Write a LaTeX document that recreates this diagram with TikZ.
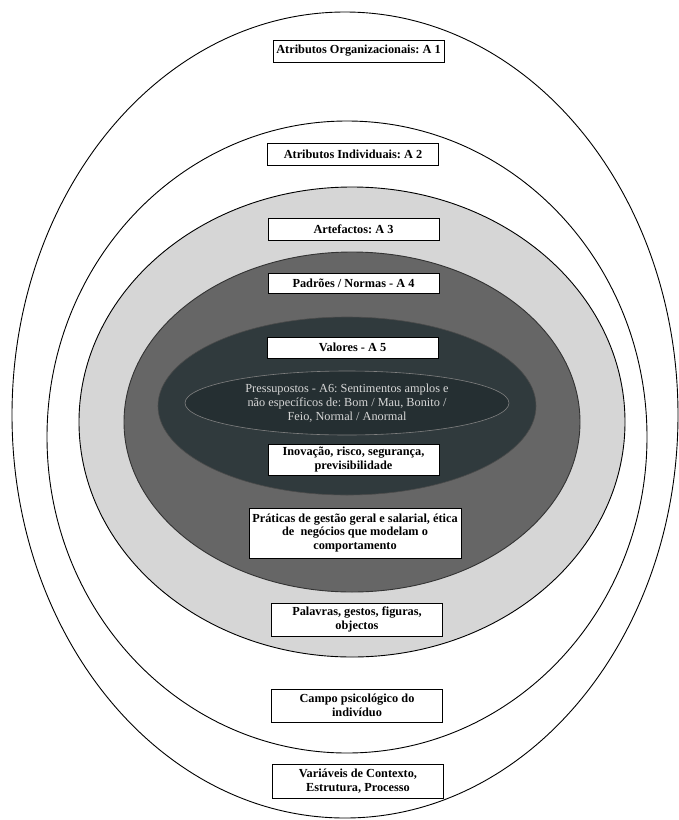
\documentclass[tikz,border=0pt]{standalone}
\usepackage{fontspec}
\setmainfont{Liberation Serif}
\frenchspacing
\definecolor{cinzaclaro}{HTML}{D6D6D6}
\definecolor{cinzamedio}{HTML}{666666}
\definecolor{escuro}{HTML}{303A3D}
\definecolor{maisescuro}{HTML}{252F32}
\tikzset{
    caixa/.style={draw, fill=white, line width=0.8pt, align=center, inner sep=1pt,
        minimum width=171pt, font=\bfseries\fontsize{12.3}{13.5}\selectfont},
    nucleo/.style={align=center, text=cinzaclaro, font=\fontsize{12.3}{14}\selectfont}
}
\begin{document}
\begin{tikzpicture}[x=1pt,y=-1pt]
    \useasboundingbox (0,0) rectangle (678,820);
    \draw[line width=0.9pt] (345,415) ellipse (333pt and 403pt);
    \draw[line width=0.9pt] (347,437) ellipse (300pt and 316pt);
    \draw[line width=0.9pt, fill=cinzaclaro] (352,422) ellipse (273pt and 235pt);
    \draw[line width=0.9pt, draw=black!80, fill=cinzamedio] (352,422) ellipse (228pt and 170pt);
    \draw[line width=0.6pt, draw=black!70, fill=escuro] (347,406) ellipse (189pt and 89pt);
    \draw[line width=0.6pt, draw=gray, fill=maisescuro] (347,403) ellipse (162pt and 32pt);
    \node[caixa, minimum height=22pt] (a1) at (358.5,51) {Atributos Organizacionais: A 1};
    \node[caixa, minimum height=22pt] (a2) at (353,154) {Atributos Individuais: A 2};
    \node[caixa, minimum height=22pt] (a3) at (353.5,229) {Artefactos: A 3};
    \node[caixa, minimum height=20pt] (a4) at (353.5,283) {Padrões / Normas - A 4};
    \node[caixa, minimum height=21pt] (a5) at (352.5,347.5) {Valores - A 5};
    \node[nucleo] (a6) at (347,403) {Pressupostos - A6: Sentimentos amplos e\\não específicos de: Bom / Mau, Bonito /\\Feio, Normal / Anormal};
    \node[caixa, minimum height=31pt] (inovacao) at (353.5,459.5) {Inovação, risco, segurança,\\previsibilidade};
    \node[caixa, minimum width=212pt, minimum height=50pt] (praticas) at (355,533) {Práticas de gestão geral e salarial, ética\\de \ negócios que modelam o\\comportamento};
    \node[caixa, minimum height=33pt] (palavras) at (357,619.5) {Palavras, gestos, figuras,\\objectos};
    \node[caixa, minimum height=33pt] (campo) at (357,705.5) {Campo psicológico do\\indivíduo};
    \node[caixa, minimum height=34pt] (variaveis) at (358,781) {Variáveis de Contexto,\\Estrutura, Processo};
\end{tikzpicture}
\end{document}
